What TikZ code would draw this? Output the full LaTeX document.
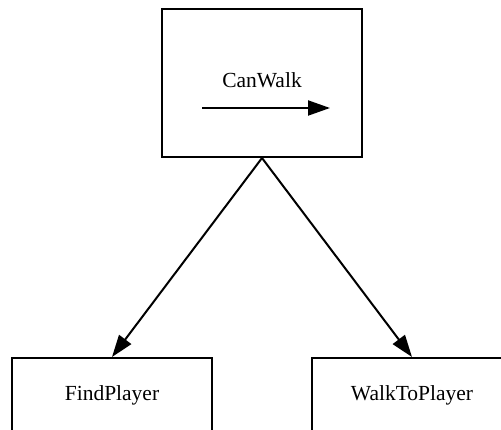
\documentclass[tikz,border=0pt]{standalone}
\usepackage{fontspec}
\setmainfont{Liberation Serif}
\usetikzlibrary{arrows.meta,positioning}

\begin{document}
\begin{tikzpicture}[x=1pt,y=-1pt,-,>={Triangle[length=22pt,width=15pt]},line width=2pt,
  box node/.style={rectangle,draw,minimum width=200pt,minimum height=148pt,inner sep=0pt},
  name node/.style={font=\fontsize{21.5}{26}\selectfont,inner sep=0pt}]
  \path[use as bounding box,clip] (0,0) rectangle (501,430);
  \node[box node] (1) at (262,83) {};
  \node[box node] (2) [below=199pt of 1,xshift=-150pt] {};
  \node[box node] (3) [below=199pt of 1,xshift=150pt] {};
  \node[name node,anchor=base] (4) at (262,88) {CanWalk};
  \node[name node] (5) [below=43pt of 2.north,anchor=base] {FindPlayer};
  \node[name node] (6) [below=43pt of 3.north,anchor=base] {WalkToPlayer};
  \coordinate (7) at (202,108);
  \coordinate (8) at (330,108);

  \path[->]
    (7) edge (8)
    (1.south) edge (2.north)
    (1.south) edge (3.north);
\end{tikzpicture}
\end{document}
